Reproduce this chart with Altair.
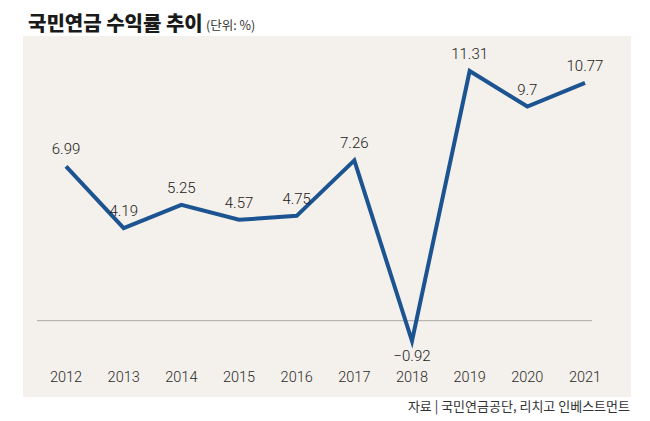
import altair as alt
import pandas as pd

years = [2012, 2013, 2014, 2015, 2016, 2017, 2018, 2019, 2020, 2021]
returns = [6.99, 4.19, 5.25, 4.57, 4.75, 7.26, -0.92, 11.31, 9.7, 10.77]
labels = ["6.99", "4.19", "5.25", "4.57", "4.75", "7.26", "\u22120.92", "11.31", "9.7", "10.77"]

title_text = "국민연금 수익률 추이"
unit_text = "(단위: %)"
source_text = "자료 | 국민연금공단, 리치고 인베스트먼트"

df = pd.DataFrame({"year": years, "ret": returns, "label": labels})

FONT = "Noto Sans CJK KR"
NUMFONT = "Roboto"

xs = alt.Scale(domain=[2011.254, 2021.798], nice=False, zero=False)
ys = alt.Scale(domain=[-3.456, 12.895], nice=False, zero=False)

base = alt.Chart(df)

zero = alt.Chart(pd.DataFrame({"z": [0]})).mark_rule(color="#b8b6b2", strokeWidth=1.2).encode(
    y=alt.Y("z:Q", scale=ys, axis=None),
    x=alt.value(14), x2=alt.value(569)
)

line = base.mark_line(color="#1c5491", strokeWidth=4, strokeJoin="miter", strokeCap="butt").encode(
    x=alt.X("year:Q", scale=xs, axis=None),
    y=alt.Y("ret:Q", scale=ys, axis=None),
)

pos_lab = base.transform_filter("datum.ret >= 0").mark_text(
    font=NUMFONT, fontSize=15, fontWeight=300, color="#1a1a1a", baseline="middle", dy=-17
).encode(
    x=alt.X("year:Q", scale=xs, axis=None),
    y=alt.Y("ret:Q", scale=ys, axis=None),
    text="label:N",
)

neg_lab = base.transform_filter("datum.ret < 0").mark_text(
    font=NUMFONT, fontSize=15, fontWeight=300, color="#1a1a1a", baseline="middle", dy=15
).encode(
    x=alt.X("year:Q", scale=xs, axis=None),
    y=alt.Y("ret:Q", scale=ys, axis=None),
    text="label:N",
)

year_lab = base.mark_text(
    font=NUMFONT, fontSize=14.5, fontWeight=300, color="#2a2a2a", baseline="middle"
).encode(
    x=alt.X("year:Q", scale=xs, axis=None),
    y=alt.value(342),
    text=alt.Text("year:N"),
)

title = alt.Chart(pd.DataFrame({"t": [title_text]})).mark_text(
    font=FONT, fontSize=20, fontWeight=900, color="#1a1a1a", align="left", baseline="alphabetic"
).encode(x=alt.value(5), y=alt.value(-5), text="t:N")

unit = alt.Chart(pd.DataFrame({"t": [unit_text]})).mark_text(
    font=FONT, fontSize=12.5, color="#333", align="left", baseline="alphabetic"
).encode(x=alt.value(183), y=alt.value(-6), text="t:N")

source = alt.Chart(pd.DataFrame({"t": [source_text]})).mark_text(
    font=FONT, fontSize=13, color="#333", align="right", baseline="middle"
).encode(x=alt.value(607), y=alt.value(371), text="t:N")

chart = alt.layer(zero, line, pos_lab, neg_lab, year_lab, title, unit, source).properties(
    width=608, height=361,
    padding={"left": 15, "top": 28, "right": 3, "bottom": 20},
    autosize="none",
    background="white",
).configure_view(fill="#f4f0eb", stroke=None)

chart.save("out.html", embed_options={"renderer": "svg", "actions": False})
